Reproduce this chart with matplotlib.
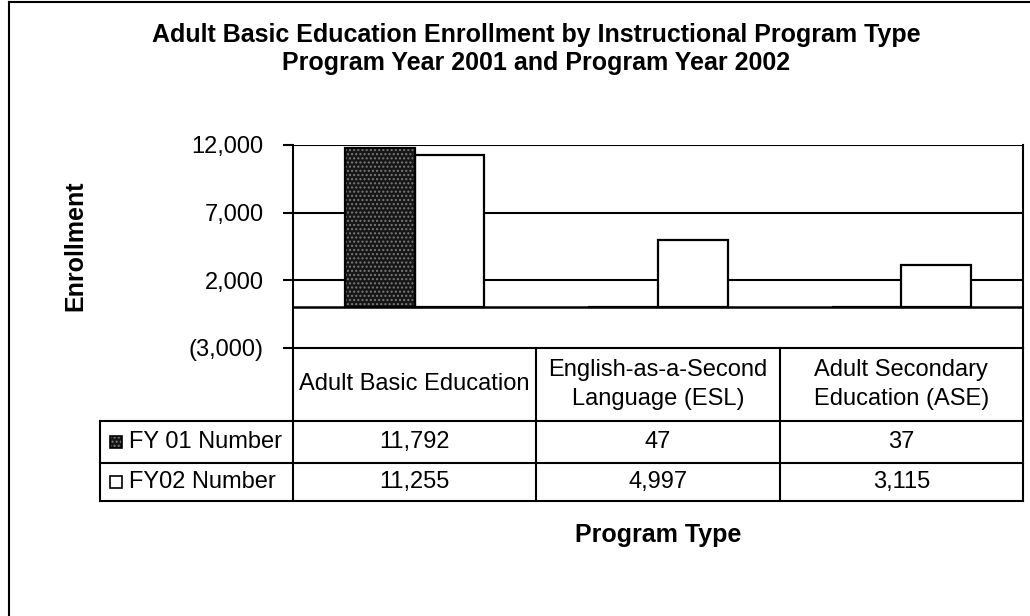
import numpy as np
import matplotlib.pyplot as plt
from matplotlib.patches import Rectangle
from matplotlib.lines import Line2D
import matplotlib.transforms as mtransforms
from matplotlib.ticker import FuncFormatter

plt.rcParams['font.family'] = ['Liberation Sans', 'DejaVu Sans']

categories = ['Adult Basic Education', 'English-as-a-Second\nLanguage (ESL)',
              'Adult Secondary\nEducation (ASE)']
fy01 = [11792, 47, 37]
fy02 = [11255, 4997, 3115]
series_names = ['FY 01 Number', 'FY02 Number']
yticks = [-3000, 2000, 7000, 12000]

W, H = 1030, 616
fig = plt.figure(figsize=(W / 100, H / 100), dpi=100)

# pixel helpers
def fx(px):
    return px / W

def fy(py):
    return 1 - py / H

ax_l, ax_r, ax_t, ax_b = 293, 1023, 145, 348
ax = fig.add_axes([fx(ax_l), fy(ax_b), fx(ax_r - ax_l), (ax_b - ax_t) / H])

x = np.arange(len(categories))
w = 1 / 3.5
# dark speckled bars for FY01
ax.bar(x - w / 2, fy01, w, color='#161616', edgecolor='#7a7a7a', hatch='....', linewidth=0, zorder=3)
ax.bar(x - w / 2, fy01, w, fill=False, edgecolor='black', linewidth=1.6, zorder=4)
ax.bar(x + w / 2, fy02, w, color='white', edgecolor='black', linewidth=1.6, zorder=3)

ax.set_xlim(-0.5, len(categories) - 0.5)
ax.set_ylim(-3000, 12000)
ax.set_yticks(yticks)
ax.yaxis.set_major_formatter(FuncFormatter(
    lambda v, p: f'({abs(v):,.0f})' if v < 0 else f'{v:,.0f}'))
ax.tick_params(axis='y', direction='out', length=7, width=1.5, pad=14, labelsize=17)
ax.set_xticks([])
for t in yticks[1:]:
    ax.axhline(t, color='black', linewidth=1.5, zorder=1)
ax.axhline(0, color='black', linewidth=1.8, zorder=5)
ax.spines['top'].set_visible(False)
for s in ['left', 'right', 'bottom']:
    ax.spines[s].set_linewidth(1.5)

fig.text(fx(75), fy(246), 'Enrollment', rotation=90, ha='center', va='center',
         fontsize=18, fontweight='bold')

# data table under the plot
trans = mtransforms.blended_transform_factory(ax.transData, ax.transAxes)
ph = ax_b - ax_t

def ay(py):
    return (ax_b - py) / ph

row_y = [348, 421, 463, 501]
leg_left = -0.5 - (ax_l - 100) / ((ax_r - ax_l) / len(categories))
kw = dict(color='black', linewidth=1.5, transform=trans, clip_on=False)
for py in row_y[1:]:
    ax.add_line(Line2D([leg_left, len(categories) - 0.5], [ay(py), ay(py)], **kw))
ax.add_line(Line2D([leg_left, leg_left], [ay(row_y[1]), ay(row_y[3])], **kw))
for xb in np.arange(len(categories) + 1) - 0.5:
    ax.add_line(Line2D([xb, xb], [0, ay(row_y[3])], **kw))

for i, c in enumerate(categories):
    ax.text(i, ay((row_y[0] + row_y[1]) / 2), c, transform=trans, ha='center',
            va='center', fontsize=17, linespacing=1.4)
    ax.text(i, ay((row_y[1] + row_y[2]) / 2), f'{fy01[i]:,}', transform=trans,
            ha='center', va='center', fontsize=17)
    ax.text(i, ay((row_y[2] + row_y[3]) / 2), f'{fy02[i]:,}', transform=trans,
            ha='center', va='center', fontsize=17)

for r, name in enumerate(series_names):
    yc = (row_y[r + 1] + row_y[r + 2]) / 2
    fig.text(fx(129), fy(yc), name, ha='left', va='center', fontsize=17)
    box = [fx(110), fy(yc + 6), fx(12), 12 / H]
    if r == 0:
        fig.add_artist(Rectangle(box[:2], box[2], box[3], transform=fig.transFigure,
                                 facecolor='#161616', edgecolor='#7a7a7a', hatch='....', linewidth=0))
    fig.add_artist(Rectangle(box[:2], box[2], box[3], transform=fig.transFigure,
                             fill=(r == 1), facecolor='white', edgecolor='black', linewidth=1.2))

fig.text(fx((ax_l + ax_r) / 2), fy(535), 'Program Type', ha='center', va='center',
         fontsize=18, fontweight='bold')
fig.text(fx(536), fy(35), 'Adult Basic Education Enrollment by Instructional Program Type',
         ha='center', va='center', fontsize=18, fontweight='bold')
fig.text(fx(536), fy(63), 'Program Year 2001 and Program Year 2002',
         ha='center', va='center', fontsize=18, fontweight='bold')

# chart frame (left and top edges visible)
fig.add_artist(Line2D([fx(9), fx(9)], [0, fy(2)], color='black', linewidth=1.5))
fig.add_artist(Line2D([fx(9), 1], [fy(2), fy(2)], color='black', linewidth=1.5))

fig.savefig('out.png', dpi=100)
